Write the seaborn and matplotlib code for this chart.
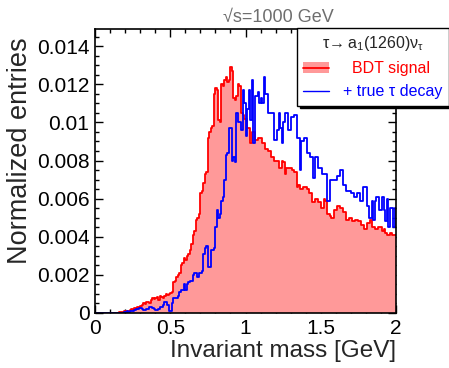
import numpy as np
import pandas as pd
import matplotlib
matplotlib.use("Agg")
import matplotlib.pyplot as plt
import seaborn as sns
from matplotlib.patches import Patch
from matplotlib.lines import Line2D
from matplotlib.ticker import MultipleLocator, FuncFormatter

# ---------------- data (bin contents, 200 bins of width 0.01 GeV from 0 to 2) ----------------
bin_range = (0.0, 2.0)
bin_width = 0.01

bdt_signal = [
    0, 0, 0, 0, 0, 0, 0, 0, 0, 0,
    0, 0, 0, 0, 0, 0.00002, 0.00003, 0.00005, 0.00004, 0.00008,
    0.0001, 0.00012, 0.0001, 0.00015, 0.0002, 0.00018, 0.00025, 0.0002, 0.0003, 0.00028,
    0.00035, 0.0004, 0.0005, 0.00045, 0.0006, 0.0006, 0.0005, 0.0007, 0.0008, 0.00075,
    0.0008, 0.00085, 0.0007, 0.0009, 0.00085, 0.0008, 0.0009, 0.001, 0.00095, 0.001,
    0.00105, 0.0011, 0.0016, 0.0017, 0.0019, 0.002, 0.0021, 0.0025, 0.0026, 0.0029,
    0.0028, 0.0030, 0.0031, 0.0033, 0.0036, 0.0041, 0.0043, 0.0049, 0.0050, 0.0052,
    0.0063, 0.0064, 0.0068, 0.0073, 0.0074, 0.0092, 0.0095, 0.0097, 0.0098, 0.0115,
    0.0118, 0.0117, 0.0101, 0.0100, 0.0120, 0.0119, 0.0122, 0.0124, 0.0121, 0.0122,
    0.0129, 0.0127, 0.0113, 0.0112, 0.0114, 0.0120, 0.0119, 0.0105, 0.0104, 0.0102,
    0.0102, 0.0097, 0.0097, 0.0089, 0.0095, 0.0095, 0.0091, 0.0091, 0.0092, 0.0092,
    0.0092, 0.0089, 0.0089, 0.0086, 0.0086, 0.0085, 0.0085, 0.0082, 0.0082, 0.0080,
    0.0080, 0.0080, 0.0076, 0.0076, 0.0080, 0.0079, 0.0073, 0.0076, 0.0076, 0.0076,
    0.0076, 0.0075, 0.0074, 0.0074, 0.0066, 0.0067, 0.0065, 0.0065, 0.0066, 0.0066,
    0.0066, 0.0065, 0.0063, 0.0063, 0.0058, 0.0058, 0.0060, 0.0060, 0.0058, 0.0058,
    0.0055, 0.0055, 0.0060, 0.0059, 0.0052, 0.0052, 0.0051, 0.0050, 0.0050, 0.0054,
    0.0054, 0.0056, 0.0056, 0.0055, 0.0055, 0.0053, 0.0053, 0.0049, 0.0049, 0.0050,
    0.0050, 0.0048, 0.0048, 0.0049, 0.0049, 0.0048, 0.0048, 0.0046, 0.0046, 0.0044,
    0.0044, 0.0047, 0.0047, 0.0049, 0.0045, 0.0045, 0.0044, 0.0044, 0.0045, 0.0045,
    0.0045, 0.0043, 0.0044, 0.0042, 0.0041, 0.0041, 0.0042, 0.0041, 0.0041, 0.0041,
]

true_tau = [
    0, 0, 0, 0, 0, 0, 0, 0, 0, 0,
    0, 0, 0, 0, 0, 0, 0, 0, 0, 0.00003,
    0.00005, 0.0001, 0.00005, 0.0001, 0.00008, 0.0001, 0.00015, 0.0002, 0.0002, 0.00025,
    0.00025, 0.0002, 0.00015, 0.00015, 0.0002, 0.0002, 0.0003, 0.0003, 0.00025, 0.0002,
    0.00015, 0.00015, 0.0002, 0.0003, 0.0003, 0.0004, 0.0006, 0.0006, 0.0004, 0.0001,
    0.0001, 0.0005, 0.0008, 0.0008, 0.0008, 0.0009, 0.0011, 0.0012, 0.0012, 0.0015,
    0.0012, 0.0015, 0.0016, 0.0017, 0.0017, 0.0020, 0.0021, 0.0021, 0.0019, 0.0021,
    0.0021, 0.0022, 0.0031, 0.0034, 0.0035, 0.0024, 0.0024, 0.0033, 0.0033, 0.0034,
    0.0045, 0.0054, 0.0050, 0.0052, 0.0059, 0.0061, 0.0070, 0.0083, 0.0084, 0.0097,
    0.0097, 0.0080, 0.0082, 0.0079, 0.0105, 0.0100, 0.0100, 0.0096, 0.0117, 0.0110,
    0.0093, 0.0107, 0.0117, 0.0101, 0.0122, 0.0089, 0.0114, 0.0114, 0.0116, 0.0110,
    0.0113, 0.0110, 0.0124, 0.0115, 0.0115, 0.0105, 0.0105, 0.0105, 0.0105, 0.0091,
    0.0091, 0.0096, 0.0105, 0.0097, 0.0089, 0.0100, 0.0105, 0.0105, 0.0096, 0.0096,
    0.0103, 0.0103, 0.0104, 0.0104, 0.0092, 0.0092, 0.0075, 0.0090, 0.0090, 0.0092,
    0.0092, 0.0084, 0.0084, 0.0082, 0.0082, 0.0071, 0.0082, 0.0082, 0.0076, 0.0076,
    0.0076, 0.0073, 0.0073, 0.0073, 0.0059, 0.0059, 0.0070, 0.0070, 0.0070, 0.0070,
    0.0070, 0.0072, 0.0072, 0.0075, 0.0075, 0.0067, 0.0067, 0.0064, 0.0064, 0.0064,
    0.0063, 0.0063, 0.0061, 0.0061, 0.0063, 0.0063, 0.0059, 0.0059, 0.0066, 0.0066,
    0.0066, 0.0056, 0.0050, 0.0050, 0.0059, 0.0049, 0.0059, 0.0061, 0.0061, 0.0054,
    0.0054, 0.0061, 0.0054, 0.0048, 0.0060, 0.0045, 0.0055, 0.0055, 0.0045, 0.0055,
]

title_text = "\u221as=1000 GeV"
legend_title = r"$\tau\!\rightarrow$a$_1$(1260)$\nu_\tau$"
label_signal = "BDT signal"
label_true = "+ true \u03c4 decay"
x_label = "Invariant mass [GeV]"
y_label = "Normalized entries"

# ---------------- build data frame ----------------
n_bins = int(round((bin_range[1] - bin_range[0]) / bin_width))
centers = bin_range[0] + bin_width * (np.arange(n_bins) + 0.5)
df = pd.DataFrame({"mass": centers,
                   "signal": np.asarray(bdt_signal, float),
                   "truth": np.asarray(true_tau, float)})

# ---------------- style ----------------
sns.set_style("ticks")
plt.rcParams["font.family"] = ["Liberation Sans", "DejaVu Sans"]
plt.rcParams["mathtext.fontset"] = "custom"
plt.rcParams["mathtext.rm"] = "Liberation Sans"
plt.rcParams["mathtext.it"] = "Liberation Sans"
plt.rcParams["mathtext.bf"] = "Liberation Sans:bold"

fig = plt.figure(figsize=(4.49, 3.68), dpi=100)
ax = fig.add_axes([0.2116, 0.1495, 0.6704, 0.7717])

fill_col = "#ff9999"
red = "#ff0000"
blue = "#0000ff"

common = dict(data=df, x="mass", binwidth=bin_width, binrange=bin_range,
              element="step", ax=ax)
sns.histplot(weights="signal", fill=True, color=fill_col, alpha=1.0, linewidth=0, **common)
sns.histplot(weights="signal", fill=False, color=red, linewidth=1.3, **common)
sns.histplot(weights="truth", fill=False, color=blue, linewidth=1.3, **common)

ax.set_xlim(0, 2)
ax.set_ylim(0, 0.0149)

ax.xaxis.set_major_locator(MultipleLocator(0.5))
ax.xaxis.set_minor_locator(MultipleLocator(0.1))
ax.yaxis.set_major_locator(MultipleLocator(0.002))
ax.yaxis.set_minor_locator(MultipleLocator(0.0005))
ax.xaxis.set_major_formatter(FuncFormatter(lambda v, p: "%g" % round(v, 6)))
ax.yaxis.set_major_formatter(FuncFormatter(lambda v, p: "%g" % round(v, 6)))

ax.tick_params(which="both", direction="in", top=True, right=True, width=1.0, colors="black")
ax.tick_params(which="major", length=6, labelsize=15, pad=4)
ax.tick_params(which="minor", length=3)
for s in ax.spines.values():
    s.set_linewidth(1.2)
    s.set_color("black")

ax.set_xlabel(x_label, fontsize=17.5, loc="right", labelpad=2)
ax.set_ylabel(y_label, fontsize=19.5)
ax.yaxis.set_label_coords(-0.206, 0.57)
ax.set_title(title_text, fontsize=13, color="#6e6e6e", x=0.61, pad=5)

handles = [
    (Patch(facecolor=fill_col, edgecolor="none"), Line2D([], [], color=red, lw=1.3)),
    Line2D([], [], color=blue, lw=1.0),
]
leg = ax.legend(handles, ["  " + label_signal, label_true], title=legend_title,
                loc="upper right", bbox_to_anchor=(1.0, 0.924), bbox_transform=fig.transFigure,
                fontsize=11.5, title_fontsize=11.5, fancybox=False, frameon=True,
                edgecolor="black", framealpha=1, borderaxespad=0, handlelength=1.6,
                handletextpad=0.9, borderpad=0.4, labelspacing=0.5,
                shadow={"color": "black", "alpha": 1.0})
leg.get_frame().set_linewidth(1.0)
leg.get_texts()[0].set_color(red)
leg.get_texts()[1].set_color(blue)

fig.savefig("out.png", dpi=100)
